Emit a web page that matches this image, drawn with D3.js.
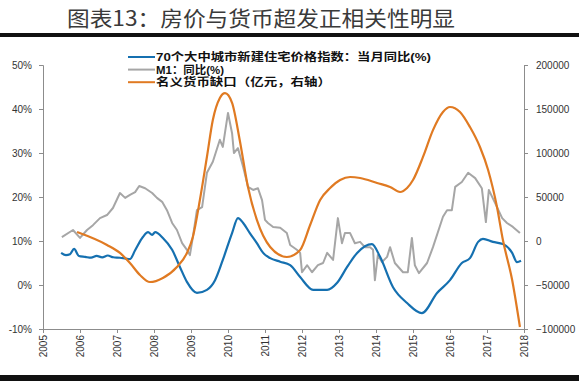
<!DOCTYPE html>
<html>
<head>
<meta charset="utf-8">
<script src="https://cdn.jsdelivr.net/npm/d3@7"></script>
<style>
  body { margin: 0; background: #fff; }
  svg { display: block; }
  .axis path, .axis line { stroke: #8c8c8c; }
  .axis text { font: 10px "Liberation Sans", Arial, sans-serif; fill: #333; }
</style>
</head>
<body>
<svg id="chart" width="579" height="381"></svg>
<script>
// 70个大中城市新建住宅价格指数 当月同比 (%)
var houseIdx = [
  [2005.49, 7.3], [2005.62, 6.8], [2005.73, 7.0], [2005.84, 8.2], [2005.97, 6.6],
  [2006.14, 6.4], [2006.3, 6.2], [2006.45, 6.6], [2006.6, 6.3], [2006.75, 6.7],
  [2006.9, 6.3], [2007.08, 6.2], [2007.24, 6.0], [2007.35, 5.9], [2007.49, 7.9],
  [2007.7, 10.9], [2007.84, 12.0], [2007.95, 11.4], [2008.03, 12.0], [2008.24, 10.7],
  [2008.49, 8.0], [2008.7, 4.1], [2008.89, 0.7], [2009.16, -1.8], [2009.43, -1.1],
  [2009.65, 1.1], [2009.86, 5.7], [2010.11, 11.8], [2010.27, 15.2], [2010.41, 14.1],
  [2010.59, 11.8], [2010.78, 9.5], [2010.95, 7.3], [2011.14, 6.1], [2011.41, 5.3],
  [2011.68, 4.5], [2011.95, 1.8], [2012.3, -1.1], [2012.68, -1.1], [2012.95, 0.5],
  [2013.22, 4.1], [2013.49, 7.3], [2013.89, 9.3], [2014.11, 6.4], [2014.46, -0.5],
  [2014.84, -4.1], [2015.24, -6.4], [2015.65, -1.8], [2016.0, 1.1], [2016.32, 5.0],
  [2016.54, 6.1], [2016.76, 9.8], [2016.89, 10.5], [2017.16, 9.8], [2017.43, 9.3],
  [2017.68, 7.3], [2017.81, 5.2], [2017.92, 5.5]
];

// M1 同比 (%)
var m1 = [
  [2005.51, 10.9], [2005.81, 12.5], [2006.0, 10.7], [2006.19, 12.5], [2006.35, 13.6],
  [2006.54, 15.2], [2006.73, 15.9], [2006.89, 17.5], [2007.08, 20.9], [2007.22, 19.8],
  [2007.35, 20.5], [2007.49, 21.1], [2007.6, 22.5], [2007.76, 22.0], [2007.95, 20.9],
  [2008.08, 19.8], [2008.22, 18.9], [2008.35, 17.0], [2008.49, 14.1], [2008.62, 12.5],
  [2008.76, 9.5], [2008.89, 8.0], [2008.97, 6.8], [2009.05, 10.9], [2009.16, 17.0],
  [2009.3, 17.7], [2009.43, 25.5], [2009.59, 28.0], [2009.78, 33.0], [2009.86, 31.4],
  [2010.0, 39.1], [2010.11, 34.5], [2010.16, 30.0], [2010.27, 31.1], [2010.41, 26.8],
  [2010.54, 22.3], [2010.68, 21.6], [2010.81, 22.0], [2010.92, 19.3], [2011.0, 14.8],
  [2011.08, 14.1], [2011.22, 13.2], [2011.41, 13.0], [2011.59, 11.8], [2011.68, 9.1],
  [2011.86, 8.0], [2011.95, 7.3], [2012.0, 2.9], [2012.14, 4.5], [2012.27, 2.9],
  [2012.43, 4.5], [2012.57, 5.0], [2012.68, 7.3], [2012.84, 5.7], [2012.97, 15.2],
  [2013.08, 9.5], [2013.16, 11.8], [2013.3, 11.8], [2013.43, 9.5], [2013.57, 9.8],
  [2013.7, 8.6], [2013.84, 8.6], [2013.92, 8.0], [2013.97, 1.1], [2014.05, 6.8],
  [2014.16, 5.2], [2014.3, 6.4], [2014.38, 8.6], [2014.51, 5.0], [2014.73, 2.9],
  [2014.86, 2.9], [2014.97, 10.7], [2015.05, 4.5], [2015.16, 2.7], [2015.38, 5.0],
  [2015.54, 8.6], [2015.81, 15.5], [2015.92, 17.0], [2016.05, 17.0], [2016.14, 22.3],
  [2016.32, 23.4], [2016.49, 25.5], [2016.68, 24.3], [2016.86, 22.0], [2016.97, 14.3],
  [2017.05, 21.6], [2017.22, 18.6], [2017.41, 15.2], [2017.54, 14.1], [2017.7, 13.2],
  [2017.89, 11.8]
];

// 名义货币缺口 (亿元, 右轴)
var moneyGap = [
  [2005.92, 10200], [2006.73, -4500], [2007.08, -13600], [2007.35, -25000], [2007.62, -38600],
  [2007.89, -46600], [2008.24, -42000], [2008.62, -29500], [2008.89, -13600], [2009.05, 4500],
  [2009.24, 46600], [2009.43, 95500], [2009.59, 137500], [2009.78, 162500], [2009.92, 168000],
  [2010.11, 157000], [2010.32, 114000], [2010.54, 61400], [2010.78, 23900], [2011.14, -6800],
  [2011.59, -18200], [2011.95, -10200], [2012.22, 18200], [2012.49, 46600], [2012.76, 60200],
  [2013.03, 69300], [2013.3, 72700], [2013.57, 71600], [2014.03, 65900], [2014.38, 61400],
  [2014.65, 55700], [2014.84, 60200], [2015.0, 69300], [2015.27, 95500], [2015.54, 126000],
  [2015.81, 146600], [2016.0, 152300], [2016.27, 146600], [2016.54, 129500], [2016.81, 106800],
  [2017.03, 80700], [2017.27, 38600], [2017.43, 1100], [2017.68, -44300], [2017.89, -97700]
];

var years = d3.range(2005, 2019);
var leftTicks = [-10, 0, 10, 20, 30, 40, 50];
var rightTicks = [-100000, -50000, 0, 50000, 100000, 150000, 200000];
var legendNames = ["70个大中城市新建住宅价格指数：当月同比(%)", "M1：同比(%)", "名义货币缺口（亿元，右轴）"];
var colors = ["#1570b0", "#a6a6a6", "#e07a22"];

var svg = d3.select("#chart"),
    margin = {top: 65, right: 55, bottom: 52, left: 43},
    width = +svg.attr("width") - margin.left - margin.right,
    height = +svg.attr("height") - margin.top - margin.bottom;

/* 标题 */
svg.append("text")
    .attr("x", 67)
    .attr("y", 26)
    .attr("textLength", 388)
    .attr("lengthAdjust", "spacingAndGlyphs")
    .attr("fill", "#3a3a3a")
    .style("font", "21px 'Noto Sans CJK SC', sans-serif")
    .text("图表13：房价与货币超发正相关性明显");

svg.append("rect").attr("x", 0).attr("y", 33).attr("width", 579).attr("height", 4).attr("fill", "#111");
svg.append("rect").attr("x", 0).attr("y", 375).attr("width", 579).attr("height", 6).attr("fill", "#111");

var g = svg.append("g").attr("transform", "translate(" + margin.left + "," + margin.top + ")");

var x = d3.scaleLinear().domain([2005, 2018]).range([0, width]);
var yL = d3.scaleLinear().domain([-10, 50]).range([height, 0]);
var yR = d3.scaleLinear().domain([-100000, 200000]).range([height, 0]);

/* 坐标轴 */
g.append("g")
    .attr("class", "axis")
    .call(d3.axisLeft(yL).tickValues(leftTicks).tickSize(4).tickPadding(7).tickFormat(function(d) { return d + "%"; }));

g.append("g")
    .attr("class", "axis")
    .attr("transform", "translate(" + width + ",0)")
    .call(d3.axisRight(yR).tickValues(rightTicks).tickSize(4).tickPadding(8).tickFormat(d3.format("d")));

var xAxis = g.append("g")
    .attr("class", "axis")
    .attr("transform", "translate(0," + height + ")")
    .call(d3.axisBottom(x).tickValues(years).tickSize(4).tickFormat(d3.format("d")));
xAxis.selectAll("text")
    .attr("transform", "rotate(-90)")
    .attr("text-anchor", "end")
    .attr("x", -6)
    .attr("y", 0)
    .attr("dy", "0.35em");
g.selectAll(".axis path.domain").attr("stroke", "#8c8c8c");

/* 折线 */
var lineL = d3.line().x(function(d) { return x(d[0]); }).y(function(d) { return yL(d[1]); });
var lineR = d3.line().x(function(d) { return x(d[0]); }).y(function(d) { return yR(d[1]); }).curve(d3.curveMonotoneX);

g.append("path").datum(m1)
    .attr("fill", "none").attr("stroke", colors[1]).attr("stroke-width", 2)
    .attr("stroke-linejoin", "round")
    .attr("d", lineL);

g.append("path").datum(houseIdx)
    .attr("fill", "none").attr("stroke", colors[0]).attr("stroke-width", 2.2)
    .attr("stroke-linejoin", "round")
    .attr("d", lineL.curve(d3.curveMonotoneX));

g.append("path").datum(moneyGap)
    .attr("fill", "none").attr("stroke", colors[2]).attr("stroke-width", 2.2)
    .attr("d", lineR);

/* 图例 */
var legendW = [275, 68, 175];
var legend = svg.selectAll(".legend")
    .data(legendNames)
    .enter().append("g")
      .attr("class", "legend")
      .attr("transform", function(d, i) { return "translate(128," + (57 + i * 12.6) + ")"; });

legend.append("line")
    .attr("x1", 0).attr("x2", 27)
    .attr("stroke", function(d, i) { return colors[i]; })
    .attr("stroke-width", 2);

legend.append("text")
    .attr("x", 28)
    .attr("dy", "0.36em")
    .attr("textLength", function(d, i) { return legendW[i]; })
    .attr("lengthAdjust", "spacingAndGlyphs")
    .attr("fill", "#111")
    .style("font", "bold 11px 'Liberation Sans', 'Noto Sans CJK SC', sans-serif")
    .text(function(d) { return d; });
</script>
</body>
</html>
